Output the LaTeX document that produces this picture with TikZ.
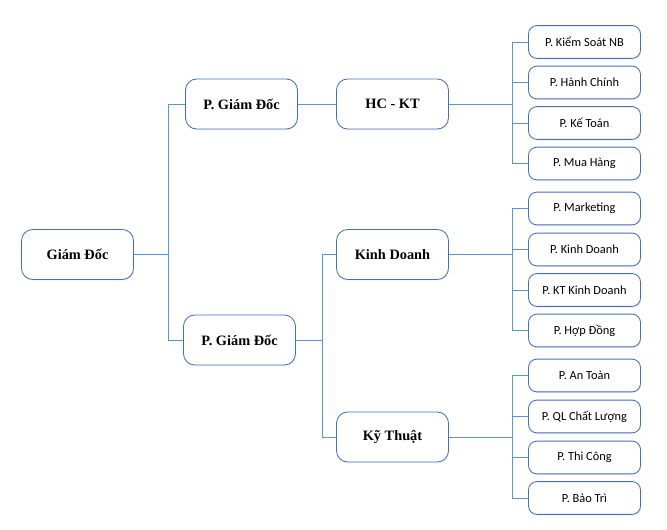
\documentclass[tikz,border=0pt]{standalone}
\usepackage{fontspec}
\setmainfont{Liberation Serif}
\newfontfamily\leaffont{Carlito}
\usetikzlibrary{shadows}

\definecolor{boxline}{RGB}{72,110,182}
\definecolor{linkline}{RGB}{91,150,212}

\begin{document}
\begin{tikzpicture}[x=0.025cm, y=-0.025cm,
    unit/.style={draw=boxline, fill=white, rounded corners=8pt, line width=0.6pt,
        minimum width=2.8cm, minimum height=1.25cm, inner sep=0pt,
        font=\bfseries\fontsize{10.2}{12}\selectfont,
        drop shadow={shadow xshift=0.4pt, shadow yshift=-0.8pt, opacity=0.12}},
    leaf/.style={unit, minimum height=0.82cm, rounded corners=6pt,
        font=\leaffont\fontsize{8.8}{10}\selectfont},
    link/.style={draw=linkline, line width=0.6pt}]
    \useasboundingbox (0,0) rectangle (667,530);

    % Draw the top levels
    \node[unit] (gd) at (77.5,254.5) {Giám Đốc};
    \node[unit] (pgdA) at (241.5,104) {P. Giám Đốc};
    \node[unit] (pgdB) at (239.5,340) {P. Giám Đốc};
    \node[unit] (hckt) at (392.5,104) {HC - KT};
    \node[unit] (kd) at (392.5,254.5) {Kinh Doanh};
    \node[unit] (kt) at (392.5,437) {Kỹ Thuật};

    % Connect the directors
    \draw[link] (gd.east) -- ++(34,0) |- (pgdA.west);
    \draw[link] (gd.east) -- ++(34,0) |- (pgdB.west);
    \draw[link] (pgdA.east) -- (hckt.west);
    \draw[link] (pgdB.east) -- ++(26,0) |- (kd.west);
    \draw[link] (pgdB.east) -- ++(26,0) |- (kt.west);

    % Draw the departments and their links
    \foreach \name/\y/\txt in {a1/42/P. Kiểm Soát NB, a2/82.5/P. Hành Chính,
        a3/123/P. Kế Toán, a4/163.5/P. Mua Hàng} {
        \node[leaf] (\name) at (584.5,\y) {\txt};
        \draw[link] (hckt.east) -- ++(63,0) |- (\name.west);
    }
    \foreach \name/\y/\txt in {b1/208.5/P. Marketing, b2/249.5/P. Kinh Doanh,
        b3/290/P. KT Kinh Doanh, b4/330.5/P. Hợp Đồng} {
        \node[leaf] (\name) at (584.5,\y) {\txt};
        \draw[link] (kd.east) -- ++(63,0) |- (\name.west);
    }
    \foreach \name/\y/\txt in {c1/375.5/P. An Toàn, c2/416.5/P. QL Chất Lượng,
        c3/457.5/P. Thi Công, c4/498/P. Bảo Trì} {
        \node[leaf] (\name) at (584.5,\y) {\txt};
        \draw[link] (kt.east) -- ++(63,0) |- (\name.west);
    }
\end{tikzpicture}
\end{document}
